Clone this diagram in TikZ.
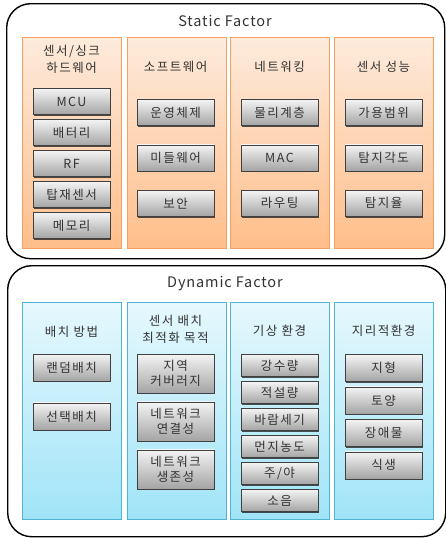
\documentclass[tikz,border=0pt]{standalone}
\usepackage{fontspec}
\setmainfont{Noto Sans CJK KR}[LetterSpace=12]
\newfontfamily\titlefont{Noto Sans CJK KR}[LetterSpace=6]
\usetikzlibrary{positioning, shadows}
\usepackage{xcolor}

\definecolor{stattop}{HTML}{FDEBDC}
\definecolor{statbot}{HTML}{FFBE8A}
\definecolor{statline}{HTML}{F5A060}
\definecolor{dyntop}{HTML}{E6F8FD}
\definecolor{dynbot}{HTML}{A0E4F8}
\definecolor{dynline}{HTML}{50B4D2}
\definecolor{itemtop}{HTML}{F4F4F4}
\definecolor{itembot}{HTML}{A4A4A4}
\definecolor{txt}{HTML}{333333}

\begin{document}
\begin{tikzpicture}[
x=1pt, y=-1pt,
font=\fontsize{12.5}{15}\selectfont, text=txt,
frame/.style={draw=black,
line width=1.4pt,
rounded corners=24pt,
anchor=north west,
inner sep=0pt},
col/.style={inner sep=0pt,
minimum width=99pt,
anchor=north west,
drop shadow={shadow xshift=0pt, shadow yshift=-1.2pt, fill=black!60, opacity=.6}},
scol/.style={col, draw=statline, top color=stattop, bottom color=statbot, minimum height=211pt},
dcol/.style={col, draw=dynline, top color=dyntop, bottom color=dynbot, minimum height=217pt},
item/.style={draw=black!75,
top color=itemtop,
bottom color=itembot,
minimum width=77pt,
minimum height=26pt,
inner sep=0pt,
align=center,
font=\fontsize{12.5}{15}\selectfont,
drop shadow={shadow xshift=1.2pt, shadow yshift=-1.2pt, fill=black!85, opacity=.8}},
head/.style={align=center, font=\fontsize{12.5}{17}\selectfont},
title/.style={font=\titlefont\fontsize{14.5}{16}\selectfont}
]
\useasboundingbox (0,0) rectangle (446,538);

% Static Factor
\node[frame, minimum width=438pt, minimum height=255pt] (static) at (6,3) {};
\node[title] (stitle) at (225,21) {Static Factor};

\node[scol] (hwcol) at (22,37) {};
\node[scol] (swcol) at (127,37) {};
\node[scol] (netcol) at (230,37) {};
\node[scol] (perfcol) at (334,37) {};

\node[head] (hwhead) at (71.5,59.5) {센서/싱크\\하드웨어};
\node[head] (swhead) at (175.5,67) {소프트웨어};
\node[head] (nethead) at (279.5,67) {네트워킹};
\node[head] (perfhead) at (383.5,67) {센서 성능};

\node[item] (hw1) at (71.5,101.5) {MCU};
\node[item, below=4.6pt of hw1] (hw2) {배터리};
\node[item, below=4.6pt of hw2] (hw3) {RF};
\node[item, below=4.6pt of hw3] (hw4) {탑재센서};
\node[item, below=4.6pt of hw4] (hw5) {메모리};

\node[item] (sw1) at (175.5,112.5) {운영체제};
\node[item, below=19pt of sw1] (sw2) {미들웨어};
\node[item, below=19pt of sw2] (sw3) {보안};

\node[item] (net1) at (279.5,112.5) {물리계층};
\node[item, below=19pt of net1] (net2) {MAC};
\node[item, below=19pt of net2] (net3) {라우팅};

\node[item] (perf1) at (383.5,112.5) {가용범위};
\node[item, below=19pt of perf1] (perf2) {탐지각도};
\node[item, below=19pt of perf2] (perf3) {탐지율};

% Dynamic Factor
\node[frame, minimum width=438pt, minimum height=271pt] (dynamic) at (7,265) {};
\node[title] (dtitle) at (225,284) {Dynamic Factor};

\node[dcol] (depcol) at (22,302) {};
\node[dcol] (goalcol) at (127,302) {};
\node[dcol] (wxcol) at (230,302) {};
\node[dcol] (geocol) at (334,302) {};

\node[head] (dephead) at (71.5,332) {배치 방법};
\node[head] (goalhead) at (175.5,329.5) {센서 배치\\최적화 목적};
\node[head] (wxhead) at (279.5,331) {기상 환경};
\node[head] (geohead) at (383.5,331) {지리적환경};

\node[item, minimum height=27pt] (dep1) at (71.5,367.5) {랜덤배치};
\node[item, minimum height=27pt, below=21.5pt of dep1] (dep2) {선택배치};

\node[item, minimum height=39pt, font=\fontsize{12.5}{14.5}\selectfont] (goal1) at (175.5,373.5) {지역\\커버러지};
\node[item, minimum height=39pt, font=\fontsize{12.5}{14.5}\selectfont, below=8.5pt of goal1] (goal2) {네트워크\\연결성};
\node[item, minimum height=39pt, font=\fontsize{12.5}{14.5}\selectfont, below=8.5pt of goal2] (goal3) {네트워크\\생존성};

\node[item, minimum height=22pt] (wx1) at (279.5,365.5) {강수량};
\node[item, minimum height=22pt, below=4.6pt of wx1] (wx2) {적설량};
\node[item, minimum height=22pt, below=4.6pt of wx2] (wx3) {바람세기};
\node[item, minimum height=22pt, below=4.6pt of wx3] (wx4) {먼지농도};
\node[item, minimum height=22pt, below=4.6pt of wx4] (wx5) {주/야};
\node[item, minimum height=22pt, below=4.6pt of wx5] (wx6) {소음};

\node[item, minimum height=27pt] (geo1) at (383.5,368) {지형};
\node[item, minimum height=27pt, below=5pt of geo1] (geo2) {토양};
\node[item, minimum height=27pt, below=5pt of geo2] (geo3) {장애물};
\node[item, minimum height=27pt, below=5pt of geo3] (geo4) {식생};

\end{tikzpicture}
\end{document}
